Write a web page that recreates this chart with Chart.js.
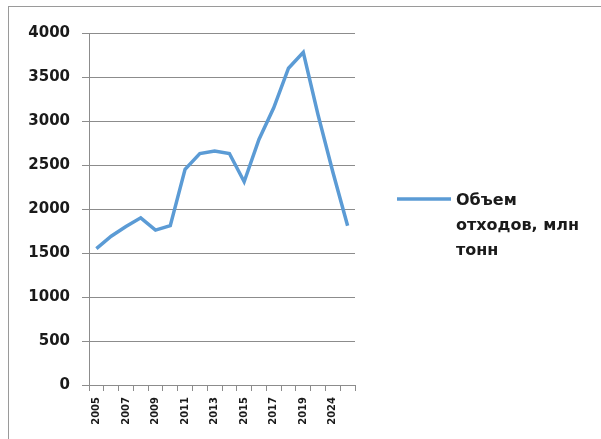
<!DOCTYPE html>
<html>
<head>
<meta charset="utf-8">
<script src="https://cdn.jsdelivr.net/npm/chart.js@4.4.1/dist/chart.umd.min.js"></script>
<style>
  html, body { margin: 0; padding: 0; background: #fff; }
  #wrap { position: relative; width: 601px; height: 439px; overflow: hidden; }
  #frame { position: absolute; left: 8px; top: 6px; width: 700px; height: 500px;
           border-left: 1px solid #9a9a9a; border-top: 1px solid #9a9a9a; }
  #chart { position: absolute; left: 0; top: 0; }
</style>
</head>
<body>
<div id="wrap">
  <div id="frame"></div>
  <canvas id="chart" width="601" height="439"></canvas>
</div>
<script>
// годы (подписи показываются через один, как в оригинале)
const years = ['2005', '2006', '2007', '2008', '2009', '2010', '2011', '2012', '2013',
               '2014', '2015', '2016', '2017', '2018', '2019', '2020', '2024', '2030'];
// объем отходов, млн тонн
const wasteVolume = [1550, 1690, 1800, 1900, 1760, 1810, 2450, 2630, 2660,
                     2630, 2310, 2790, 3150, 3600, 3780, 3070, 2420, 1810];
const seriesLabel = 'Объем отходов, млн тонн';
const legendLines = ['Объем', 'отходов, млн', 'тонн'];

const lineColor = '#5b9bd5';
const gridColor = '#8c8c8c';

// легенда с переносом строк (штатная легенда Chart.js не переносит текст)
const wrapLegend = {
    id: 'wrapLegend',
    afterDraw(chart) {
        const ctx = chart.ctx;
        ctx.save();
        ctx.strokeStyle = lineColor;
        ctx.lineWidth = 3.5;
        ctx.beginPath();
        ctx.moveTo(397, 199);
        ctx.lineTo(451, 199);
        ctx.stroke();
        ctx.fillStyle = '#1a1a1a';
        ctx.font = 'bold 16px "DejaVu Sans"';
        ctx.textBaseline = 'middle';
        legendLines.forEach((t, i) => ctx.fillText(t, 456, 201 + i * 25));
        ctx.restore();
    }
};

new Chart(document.getElementById('chart').getContext('2d'), {
    type: 'line',
    data: {
        labels: years,
        datasets: [{
            label: seriesLabel,
            data: wasteVolume,
            borderColor: lineColor,
            borderWidth: 3.5,
            pointRadius: 0,
            tension: 0,
            fill: false
        }]
    },
    options: {
        responsive: false,
        animation: false,
        layout: { padding: { left: 0, top: 33, right: 246, bottom: 0 } },
        scales: {
            x: {
                offset: true,
                afterFit: scale => { scale.height = 54; },
                grid: {
                    offset: true,
                    drawOnChartArea: false,
                    drawTicks: true,
                    tickLength: 6,
                    color: gridColor
                },
                border: { color: gridColor },
                ticks: {
                    autoSkip: false,
                    minRotation: 90,
                    maxRotation: 90,
                    padding: 6,
                    color: '#1a1a1a',
                    font: { family: 'DejaVu Sans', size: 10, weight: 'bold' },
                    callback: function (value, index) {
                        return index % 2 === 0 ? this.getLabelForValue(value) : '';
                    }
                }
            },
            y: {
                min: 0,
                max: 4000,
                afterFit: scale => { scale.width = 89; },
                grid: { color: gridColor, tickLength: 7 },
                border: { color: gridColor },
                ticks: {
                    stepSize: 500,
                    padding: 12,
                    color: '#1a1a1a',
                    font: { family: 'DejaVu Sans', size: 15, weight: 'bold' },
                    callback: value => String(value)
                }
            }
        },
        plugins: {
            legend: { display: false },
            tooltip: { enabled: false }
        }
    },
    plugins: [wrapLegend]
});
</script>
</body>
</html>
